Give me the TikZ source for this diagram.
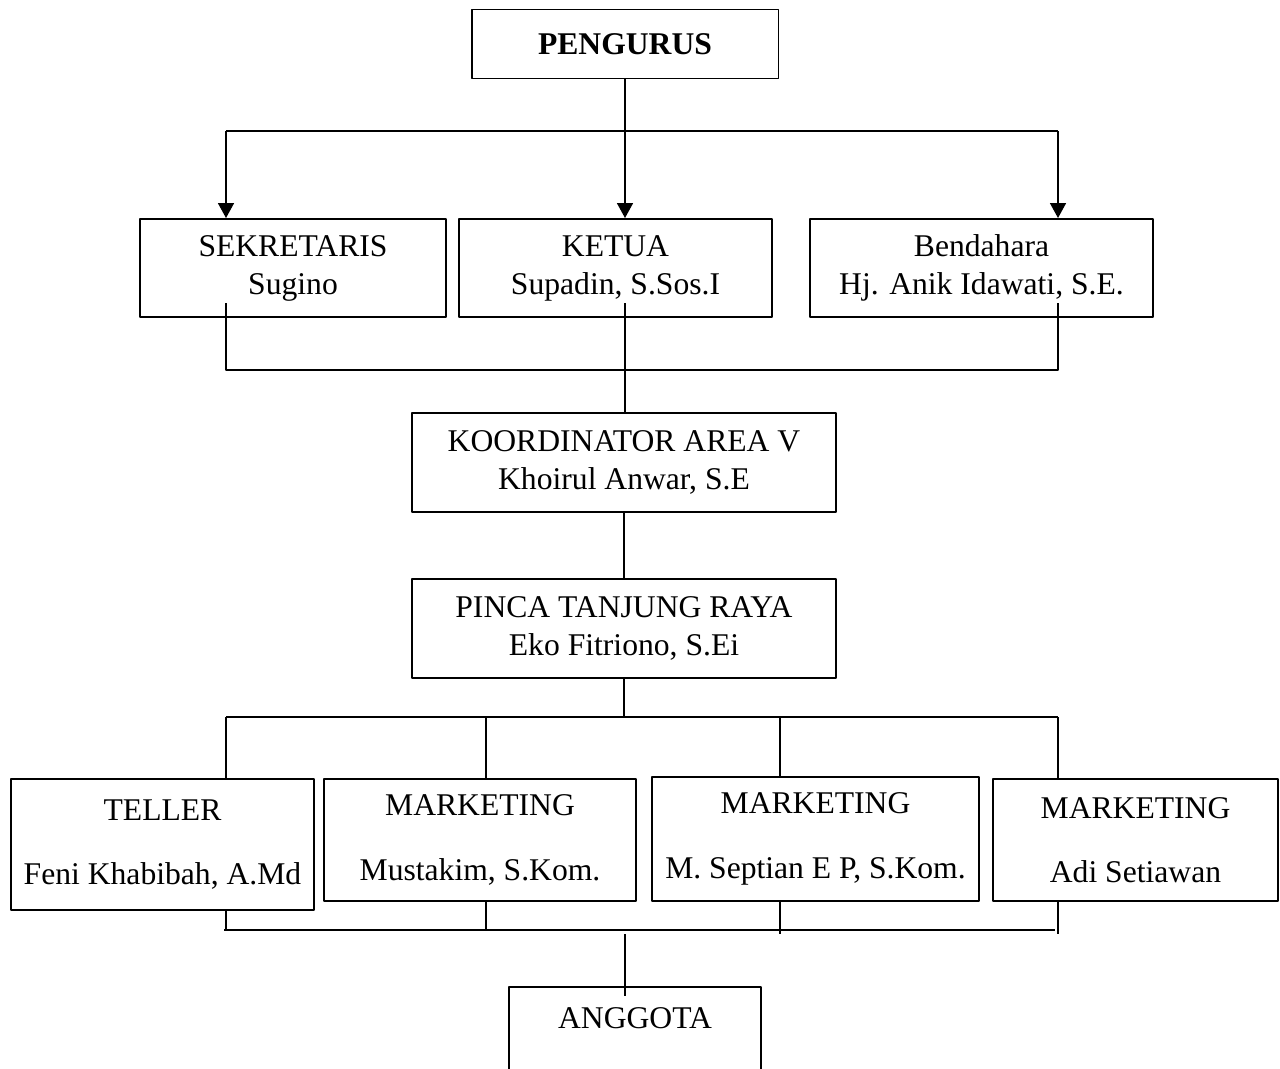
\documentclass[tikz,border=0pt]{standalone}
\usepackage{fontspec}
\setmainfont{Liberation Serif}
\usepackage{tikz}
\usetikzlibrary{arrows.meta}

\begin{document}
\begin{tikzpicture}[x=0.02cm, y=-0.02cm, line width=1.1pt, line join=round,
    kotak/.style={draw, rectangle, align=center, inner sep=0pt,
        font=\fontsize{18}{21.6}\selectfont},
    panah/.style={-{Triangle[length=8.5pt,width=9pt]}}]

    \useasboundingbox (0,0) rectangle (1280,1068);

    % kotak-kotak
    \node[kotak, minimum width=6.14cm, minimum height=1.38cm] (pengurus) at (625,44) {\textbf{PENGURUS}};

    \node[kotak, minimum width=6.12cm, minimum height=1.96cm] (sekretaris) at (293,268) {SEKRETARIS\\Sugino};
    \node[kotak, minimum width=6.26cm, minimum height=1.96cm] (ketua) at (615.5,268) {KETUA\\Supadin, S.Sos.I};
    \node[kotak, minimum width=6.86cm, minimum height=1.96cm] (bendahara) at (981.5,268) {Bendahara\\Hj. Anik Idawati, S.E.};

    \node[kotak, minimum width=8.48cm, minimum height=1.98cm] (koordinator) at (624,462.5) {KOORDINATOR AREA V\\Khoirul Anwar, S.E};
    \node[kotak, minimum width=8.48cm, minimum height=1.98cm] (pinca) at (624,628.5) {PINCA TANJUNG RAYA\\Eko Fitriono, S.Ei};

    \node[kotak, minimum width=6.06cm, minimum height=2.62cm] (teller) at (162.5,844.5) {TELLER\\[15pt]Feni Khabibah, A.Md};
    \node[kotak, minimum width=6.24cm, minimum height=2.44cm] (marketinga) at (480,840) {MARKETING\\[15pt]Mustakim, S.Kom.};
    \node[kotak, minimum width=6.54cm, minimum height=2.48cm] (marketingb) at (815.5,839) {MARKETING\\[15pt]M. Septian E P, S.Kom.};
    \node[kotak, minimum width=5.70cm, minimum height=2.44cm] (marketingc) at (1135.5,840) {MARKETING\\[15pt]Adi Setiawan};

    \node[kotak, draw=none, minimum width=5cm, minimum height=1.6cm] (anggota) at (635,1028) {ANGGOTA\\[-10pt]\mbox{}};
    \draw (anggota.south west) -- (anggota.north west) -- (anggota.north east) -- (anggota.south east);

    % titik cabang
    \coordinate (c1) at (625,131);
    \coordinate (c1k) at (226,131);
    \coordinate (c1n) at (1058,131);

    \coordinate (s2k) at (226,303);
    \coordinate (s2t) at (625,303);
    \coordinate (s2n) at (1058,303);
    \coordinate (c2k) at (226,370);
    \coordinate (c2n) at (1058,370);

    \coordinate (c3) at (624,717);
    \coordinate (c3k) at (226,717);
    \coordinate (c3a) at (486,717);
    \coordinate (c3b) at (780,717);
    \coordinate (c3n) at (1058,717);

    \coordinate (c4k) at (224,930);
    \coordinate (c4n) at (1055,930);
    \coordinate (c4t) at (625,934);

    % pengurus ke bawah
    \draw (pengurus.south) -- (c1);
    \draw (c1k) -- (c1n);
    \draw[panah] (c1k) -- (c1k |- sekretaris.north);
    \draw[panah] (c1) -- (c1 |- ketua.north);
    \draw[panah] (c1n) -- (c1n |- bendahara.north);

    % sekretaris, ketua, bendahara ke koordinator
    \draw (s2k) -- (c2k) -- (c2n) -- (s2n);
    \draw (s2t) -- (s2t |- koordinator.north);

    \draw (koordinator.south) -- (pinca.north);

    % pinca ke teller dan marketing
    \draw (pinca.south) -- (c3);
    \draw (c3k) -- (c3n);
    \draw (c3k) -- (c3k |- teller.north);
    \draw (c3a) -- (c3a |- marketinga.north);
    \draw (c3b) -- (c3b |- marketingb.north);
    \draw (c3n) -- (c3n |- marketingc.north);

    % ke anggota
    \draw (c4k) -- (c4n);
    \draw (c3k |- teller.south) -- (c3k |- c4k);
    \draw (c3a |- marketinga.south) -- (c3a |- c4k);
    \draw (c3b |- marketingb.south) -- (c3b |- c4t);
    \draw (c3n |- marketingc.south) -- (c3n |- c4t);
    \draw (c4t) -- ([yshift=-5pt]c4t |- anggota.north);

\end{tikzpicture}
\end{document}
